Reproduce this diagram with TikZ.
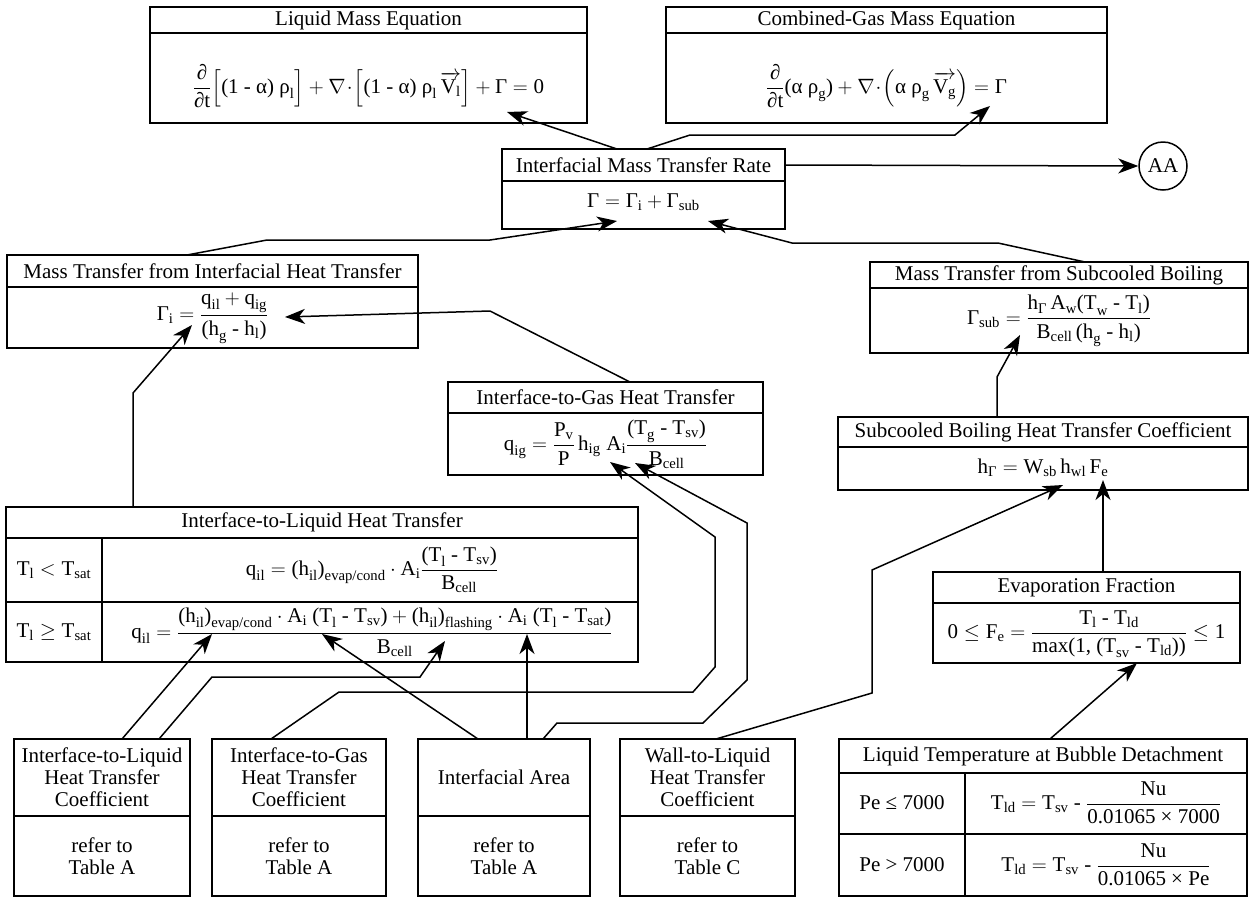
\documentclass[tikz,border=0pt]{standalone}
\usepackage{amsmath}
\usepackage{fontspec}
\setmainfont{Liberation Serif}
\usetikzlibrary{arrows.meta,calc,fit}
\newcommand{\tx}[1]{\text{#1}}
\tikzset{
  box/.style={draw, line width=1.5pt, inner sep=0pt},
  lbl/.style={font=\fontsize{21}{22}\selectfont, inner sep=1pt, align=center},
  conn/.style={line width=1.5pt, -{Stealth[length=20pt,width=15pt,inset=6pt]}},
  rule/.style={line width=1.5pt},
}
% name, x1, y1, x2, y2, ydivider, header, body, ybody
\newcommand{\mkbox}[9]{%
  \node[box, fit={(#2,#3) (#4,#5)}] (#1) {};
  \draw[rule] (#2,#6) -- (#4,#6);
  \node[lbl] (#1h) at ($(#2,#3)!0.5!(#4,#6)$) {#7};
  \node[lbl] (#1b) at ({(#2+#4)/2},#9) {#8};
}
\begin{document}
\begin{tikzpicture}[x=1pt,y=-1pt]
\useasboundingbox (0,0) rectangle (1251,903);

% ---------- top equations ----------
\mkbox{A}{150}{7}{587}{123}{33}{Liquid Mass Equation}%
 {$\dfrac{\tx{∂}}{\tx{∂t}}\Big[\tx{(1 - α) ρ}_{\tx{l}}\Big] + \nabla\!\cdot\!\Big[\tx{(1 - α) ρ}_{\tx{l}}\,\overrightarrow{\tx{V}_{\tx{l}}}\Big] + \tx{Γ} = \tx{0}$}{86}
\mkbox{B}{666}{7}{1107}{123}{33}{Combined-Gas Mass Equation}%
 {$\dfrac{\tx{∂}}{\tx{∂t}}\tx{(α ρ}_{\tx{g}}\tx{)} + \nabla\!\cdot\!\Big(\tx{α ρ}_{\tx{g}}\,\overrightarrow{\tx{V}_{\tx{g}}}\Big) = \tx{Γ}$}{86}
\mkbox{C}{502}{149}{785}{229}{181}{Interfacial Mass Transfer Rate}%
 {$\tx{Γ} = \tx{Γ}_{\tx{i}} + \tx{Γ}_{\tx{sub}}$}{202}
\node[draw, circle, line width=1.5pt, minimum size=48pt, inner sep=0pt, font=\fontsize{21}{22}\selectfont] (AA) at (1163,166) {AA};

% ---------- middle boxes ----------
\mkbox{E}{7}{255}{418}{348}{287}{Mass Transfer from Interfacial Heat Transfer}%
 {$\tx{Γ}_{\tx{i}} = \dfrac{\tx{q}_{\tx{il}} + \tx{q}_{\tx{ig}}}{\tx{(h}_{\tx{g}}\tx{ - h}_{\tx{l}}\tx{)}}$}{318}
\mkbox{F}{870}{262}{1248}{353}{288}{Mass Transfer from Subcooled Boiling}%
 {$\tx{Γ}_{\tx{sub}} = \dfrac{\tx{h}_{\tx{Γ}}\,\tx{A}_{\tx{w}}\tx{(T}_{\tx{w}}\tx{ - T}_{\tx{l}}\tx{)}}{\tx{B}_{\tx{cell}}\,\tx{(h}_{\tx{g}}\tx{ - h}_{\tx{l}}\tx{)}}$}{321}
\mkbox{H}{448}{382}{763}{475}{413}{Interface-to-Gas Heat Transfer}%
 {$\tx{q}_{\tx{ig}} = \dfrac{\tx{P}_{\tx{v}}}{\tx{P}}\,\tx{h}_{\tx{ig}}\;\tx{A}_{\tx{i}}\dfrac{\tx{(T}_{\tx{g}}\tx{ - T}_{\tx{sv}}\tx{)}}{\tx{B}_{\tx{cell}}}$}{444}
\mkbox{G}{838}{417}{1248}{490}{447}{Subcooled Boiling Heat Transfer Coefficient}%
 {$\tx{h}_{\tx{Γ}} = \tx{W}_{\tx{sb}}\,\tx{h}_{\tx{wl}}\,\tx{F}_{\tx{e}}$}{468}
\mkbox{J}{933}{572}{1240}{663}{603}{Evaporation Fraction}%
 {$\tx{0} \le \tx{F}_{\tx{e}} = \dfrac{\tx{T}_{\tx{l}}\tx{ - T}_{\tx{ld}}}{\tx{max(1, (T}_{\tx{sv}}\tx{ - T}_{\tx{ld}}\tx{))}} \le \tx{1}$}{634}

% ---------- Interface-to-Liquid table ----------
\node[box, fit={(6,507) (638,662)}] (I) {};
\draw[rule] (6,538) -- (638,538);
\draw[rule] (6,602) -- (638,602);
\draw[rule] (102,538) -- (102,662);
\node[lbl] (Ih) at (322,522) {Interface-to-Liquid Heat Transfer};
\node[lbl] (Ic1) at (54,570) {$\tx{T}_{\tx{l}} < \tx{T}_{\tx{sat}}$};
\node[lbl] (Ic2) at (54,632) {$\tx{T}_{\tx{l}} \ge \tx{T}_{\tx{sat}}$};
\node[lbl] (If1) at (372,570) {$\tx{q}_{\tx{il}} = \tx{(h}_{\tx{il}}\tx{)}_{\tx{evap/cond}}\cdot\tx{A}_{\tx{i}}\dfrac{\tx{(T}_{\tx{l}}\tx{ - T}_{\tx{sv}}\tx{)}}{\tx{B}_{\tx{cell}}}$};
\node[lbl] (If2) at (372,632) {$\tx{q}_{\tx{il}} = \dfrac{\tx{(h}_{\tx{il}}\tx{)}_{\tx{evap/cond}}\cdot\tx{A}_{\tx{i}}\tx{ (T}_{\tx{l}}\tx{ - T}_{\tx{sv}}\tx{)} + \tx{(h}_{\tx{il}}\tx{)}_{\tx{flashing}}\cdot\tx{A}_{\tx{i}}\tx{ (T}_{\tx{l}}\tx{ - T}_{\tx{sat}}\tx{)}}{\tx{B}_{\tx{cell}}}$};

% ---------- bottom boxes ----------
\mkbox{bA}{14}{739}{190}{896}{816}{Interface-to-Liquid\\Heat Transfer\\Coefficient}{refer to\\Table A}{856}
\mkbox{bB}{212}{739}{386}{896}{816}{Interface-to-Gas\\Heat Transfer\\Coefficient}{refer to\\Table A}{856}
\mkbox{bC}{418}{739}{590}{896}{816}{Interfacial Area}{refer to\\Table A}{856}
\mkbox{bD}{620}{739}{795}{896}{816}{Wall-to-Liquid\\Heat Transfer\\Coefficient}{refer to\\Table C}{856}

% ---------- Liquid temperature table ----------
\node[box, fit={(839,739) (1247,896)}] (K) {};
\draw[rule] (839,773) -- (1247,773);
\draw[rule] (839,834) -- (1247,834);
\draw[rule] (965,773) -- (965,896);
\node[lbl] (Kh) at (1043,756) {Liquid Temperature at Bubble Detachment};
\node[lbl] (Kc1) at (902,803) {Pe ≤ 7000};
\node[lbl] (Kc2) at (902,865) {Pe > 7000};
\node[lbl] (Kf1) at (1106,803) {$\tx{T}_{\tx{ld}} = \tx{T}_{\tx{sv}}\tx{ - }\dfrac{\tx{Nu}}{\tx{0.01065 × 7000}}$};
\node[lbl] (Kf2) at (1106,865) {$\tx{T}_{\tx{ld}} = \tx{T}_{\tx{sv}}\tx{ - }\dfrac{\tx{Nu}}{\tx{0.01065 × Pe}}$};

% ---------- connector end points ----------
\coordinate (sCA) at (617,149);  \coordinate (tA) at (507,112);
\coordinate (sCB) at (647,149);  \coordinate (tB) at (990,106);
\coordinate (sE) at (187,255);   \coordinate (tCi) at (617,221);
\coordinate (sF) at (1085,262);  \coordinate (tCs) at (708,221);
\coordinate (sI) at (133,507);   \coordinate (tEi) at (192,325);
\coordinate (sH) at (630,382);   \coordinate (tEg) at (285,317);
\coordinate (sG) at (997,417);   \coordinate (tF) at (1020,335);
\coordinate (sA1) at (122,739);  \coordinate (tI1) at (212,634);
\coordinate (sA2) at (159,739);  \coordinate (tI3) at (445,641);
\coordinate (sC1) at (478,739);  \coordinate (tI2) at (322,634);
\coordinate (sC2) at (527,739);  \coordinate (tI4) at (527,634);
\coordinate (sC3) at (543,739);  \coordinate (tH2) at (635,463);
\coordinate (sB1) at (271,739);  \coordinate (tH1) at (610,462);
\coordinate (sD1) at (716,739);  \coordinate (tG1) at (1063,485);
\coordinate (sK) at (1050,739);  \coordinate (tJ) at (1137,663);
\coordinate (sJ) at (1103,572);  \coordinate (tG2) at (1103,480);

% ---------- connectors ----------
\draw[conn] (C.east |- Ch) -- (AA.west);
\draw[conn] (sCA) -- (tA);
\draw[conn] (sCB) -- (690,135) -- (955,135) -- (tB);
\draw[conn] (sE) -- (267,240) -- (490,240) -- (tCi);
\draw[conn] (sF) -- (998,243) -- (792,243) -- (tCs);
\draw[conn] (sI) -- (133,393) -- (tEi);
\draw[conn] (sH) -- (490,311) -- (tEg);
\draw[conn] (sG) -- (997,377) -- (tF);
\draw[conn] (sA1) -- (tI1);
\draw[conn] (sC1) -- (tI2);
\draw[conn] (sA2) -- (212,677) -- (420,677) -- (tI3);
\draw[conn] (sC2) -- (tI4);
\draw[conn] (sB1) -- (339,692) -- (693,692) -- (715,667) -- (715,537) -- (tH1);
\draw[conn] (sC3) -- (557,723) -- (703,723) -- (747,680) -- (747,523) -- (tH2);
\draw[conn] (sD1) -- (872,693) -- (872,570) -- (tG1);
\draw[conn] (sK) -- (tJ);
\draw[conn] (sJ) -- (tG2);
\end{tikzpicture}
\end{document}
